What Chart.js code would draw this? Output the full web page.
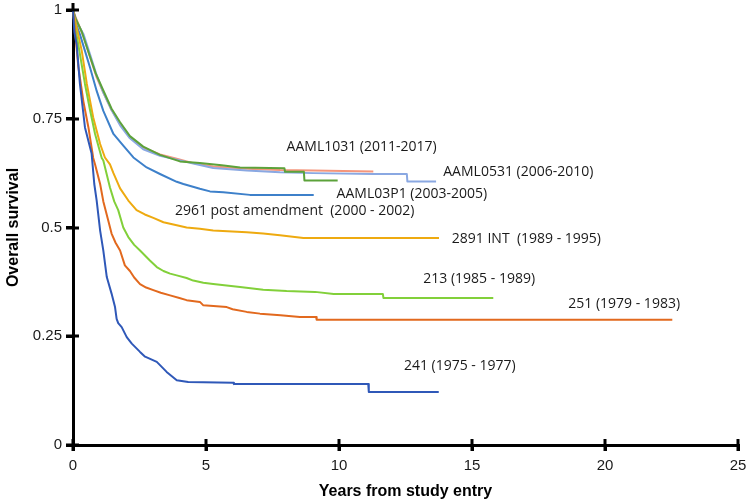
<!DOCTYPE html>
<html><head><meta charset="utf-8">
<script src="https://cdn.jsdelivr.net/npm/chart.js@4/dist/chart.umd.min.js"></script>
<style>html,body{margin:0;padding:0;background:#fff}#wrap{width:750px;height:503px;position:relative}</style>
</head><body><div id="wrap"><canvas id="c" width="750" height="503"></canvas></div>
<script>
// ---- data (time in years, overall survival) ----
const xTicks = [0, 5, 10, 15, 20, 25];
const yTicks = [0, 0.25, 0.5, 0.75, 1];
const yTickLabels = ['0', '0.25', '0.5', '0.75', '1'];

const s241 = [[0,1],[0.05,0.95],[0.14,0.92],[0.26,0.83],[0.45,0.73],[0.7,0.67],[0.8,0.6],[0.89,0.562],[1.02,0.493],[1.14,0.447],[1.27,0.386],[1.45,0.348],[1.58,0.317],[1.64,0.29],[1.7,0.28],[1.83,0.271],[2.02,0.248],[2.21,0.233],[2.52,0.214],[2.71,0.203],[3.15,0.191],[3.52,0.168],[3.9,0.149],[4.33,0.145],[6.03,0.143],[6.05,0.14],[11.1,0.14],[11.12,0.122],[13.75,0.122]];
const s251 = [[0,1],[0.08,0.95],[0.2,0.87],[0.39,0.79],[0.58,0.73],[0.76,0.66],[0.83,0.645],[1.02,0.6],[1.14,0.56],[1.33,0.515],[1.45,0.486],[1.6,0.465],[1.77,0.447],[1.95,0.413],[2.14,0.4],[2.3,0.385],[2.52,0.37],[2.75,0.362],[3.02,0.356],[3.3,0.35],[3.65,0.344],[4.0,0.338],[4.27,0.333],[4.77,0.329],[4.9,0.321],[5.78,0.317],[6.0,0.312],[6.53,0.306],[7.03,0.302],[7.8,0.298],[8.53,0.294],[9.14,0.294],[9.16,0.288],[22.53,0.288]];
const s213 = [[0,1],[0.05,0.97],[0.2,0.92],[0.45,0.83],[0.64,0.77],[0.83,0.715],[1.08,0.66],[1.14,0.654],[1.39,0.592],[1.55,0.56],[1.7,0.54],[1.89,0.5],[2.08,0.478],[2.3,0.46],[2.52,0.447],[2.89,0.424],[3.15,0.409],[3.4,0.4],[3.65,0.394],[3.9,0.39],[4.27,0.384],[4.52,0.378],[4.9,0.373],[5.27,0.37],[6.28,0.363],[7.15,0.357],[8.03,0.354],[9.1,0.352],[9.8,0.347],[11.65,0.347],[11.67,0.338],[15.8,0.338]];
const s2891 = [[0,1],[0.1,0.97],[0.33,0.906],[0.52,0.83],[0.76,0.753],[1.02,0.692],[1.2,0.661],[1.39,0.645],[1.52,0.625],[1.77,0.59],[2.08,0.562],[2.39,0.54],[2.7,0.53],[3.02,0.522],[3.4,0.512],[3.9,0.505],[4.27,0.5],[4.77,0.497],[5.27,0.493],[6.53,0.489],[7.15,0.486],[7.78,0.482],[8.66,0.476],[13.76,0.476]];
const s2961 = [[0,1],[0.1,0.97],[0.26,0.944],[0.45,0.906],[0.64,0.868],[0.89,0.814],[1.14,0.768],[1.52,0.715],[1.89,0.688],[2.27,0.661],[2.77,0.638],[3.27,0.623],[3.9,0.605],[4.15,0.6],[4.77,0.589],[5.15,0.583],[5.65,0.581],[6.65,0.575],[9.05,0.575]];
const sAAML03P1 = [[0,1],[0.1,0.98],[0.33,0.95],[0.6,0.9],[0.85,0.855],[1.14,0.815],[1.45,0.773],[1.77,0.742],[2.14,0.71],[2.64,0.686],[3.27,0.667],[4.02,0.652],[4.77,0.648],[5.59,0.643],[6.28,0.638],[7.95,0.636],[7.97,0.628],[8.68,0.628],[8.7,0.608],[9.95,0.608]];
const sAAML0531 = [[0,1],[0.12,0.975],[0.39,0.945],[0.64,0.898],[0.89,0.85],[1.14,0.81],[1.45,0.77],[1.77,0.735],[2.14,0.705],[2.64,0.68],[3.27,0.665],[3.9,0.656],[4.52,0.647],[5.27,0.637],[6.53,0.631],[7.78,0.627],[9.03,0.625],[11.29,0.623],[12.55,0.623],[12.57,0.606],[13.65,0.606]];
const sAAML1031 = [[0,1],[0.14,0.977],[0.39,0.94],[0.64,0.892],[0.89,0.845],[1.14,0.81],[1.45,0.77],[1.77,0.738],[2.14,0.707],[2.64,0.684],[3.27,0.668],[3.9,0.658],[4.52,0.648],[5.27,0.64],[6.53,0.635],[7.78,0.632],[9.03,0.631],[11.29,0.629]];

const seriesNames = ['241 (1975 - 1977)','251 (1979 - 1983)','213 (1985 - 1989)','2891 INT  (1989 - 1995)','2961 post amendment  (2000 - 2002)','AAML03P1 (2003-2005)','AAML0531 (2006-2010)','AAML1031 (2011-2017)'];
const seriesData = [s241, s251, s213, s2891, s2961, sAAML03P1, sAAML0531, sAAML1031];
const seriesColors = ['#2F58B8','#E2691E','#82D03A','#EEAA10','#3D80CA','#5CA23A','#8AA8E2','#F5967C'];
// label anchors [x (years), y (survival)] for each series' text
const labelX = [12.44, 18.62, 13.17, 14.24, 3.83, 9.91, 13.92, 8.03];
const labelY = [0.181, 0.325, 0.382, 0.474, 0.537, 0.577, 0.627, 0.684];

const datasets = seriesData.map((d, i) => ({
  label: seriesNames[i],
  data: d.map(p => ({x: p[0], y: p[1]})),
  borderColor: seriesColors[i],
  backgroundColor: seriesColors[i],
  borderWidth: 2,
  borderJoinStyle: 'round',
  borderCapStyle: 'butt',
  pointRadius: 0,
  tension: 0,
  fill: false,
  clip: 4
}));

const tickPlugin = {
  id: 'crossTicks',
  afterDraw(chart) {
    const ctx = chart.ctx, xs = chart.scales.x, ys = chart.scales.y;
    const a = chart.chartArea;
    ctx.save();
    ctx.fillStyle = '#000000';
    // small extension of the y axis line above the top tick
    ctx.fillRect(a.left - 1.5, a.top - 7, 3, 8);
    for (const v of yTicks) {
      const p = Math.round(ys.getPixelForValue(v));
      ctx.fillRect(a.left - 7, p - 1.5, 13, 3);
    }
    for (const v of xTicks) {
      const p = Math.round(xs.getPixelForValue(v));
      ctx.fillRect(p - 1.5, a.bottom - 6, 3, 12);
    }
    // curve labels
    ctx.fillStyle = '#1a1a1a';
    ctx.font = '14px "Open Sans"';
    ctx.textAlign = 'left';
    ctx.textBaseline = 'middle';
    seriesNames.forEach((n, i) => {
      ctx.fillText(n, xs.getPixelForValue(labelX[i]), ys.getPixelForValue(labelY[i]));
    });
    ctx.restore();
  }
};

new Chart(document.getElementById('c'), {
  type: 'line',
  data: { datasets },
  options: {
    responsive: false,
    animation: false,
    devicePixelRatio: 1,
    layout: { padding: { top: 10, right: 12, left: 0, bottom: 0 } },
    plugins: { legend: { display: false }, tooltip: { enabled: false } },
    scales: {
      x: {
        type: 'linear', min: 0, max: 25,
        afterBuildTicks: s => { s.ticks = xTicks.map(v => ({ value: v })); },
        afterFit: s => { s.height = 58; s.paddingLeft = 0; s.paddingRight = 0; },
        grid: { display: true, drawOnChartArea: false, drawTicks: true, tickLength: 6, color: '#000', lineWidth: 3 },
        border: { display: true, color: '#000', width: 3 },
        ticks: { padding: 6, color: '#1a1a1a', font: { family: '"Liberation Sans", Arial', size: 15 }, maxRotation: 0 },
        title: { display: true, text: 'Years from study entry', color: '#000', font: { family: '"Liberation Sans", Arial', size: 16, weight: 'bold' }, padding: { top: 0, bottom: 2 } }
      },
      y: {
        type: 'linear', min: 0, max: 1,
        afterBuildTicks: s => { s.ticks = yTicks.map(v => ({ value: v })); },
        afterFit: s => { s.width = 73; s.paddingTop = 0; s.paddingBottom = 0; },
        grid: { display: true, drawOnChartArea: false, drawTicks: true, tickLength: 7, color: '#000', lineWidth: 3 },
        border: { display: true, color: '#000', width: 3 },
        ticks: { padding: 4, color: '#1a1a1a', font: { family: '"Liberation Sans", Arial', size: 15 },
          callback: (v) => { const i = yTicks.indexOf(v); return i >= 0 ? yTickLabels[i] : ''; } },
        title: { display: true, text: 'Overall survival', color: '#000', font: { family: '"Liberation Sans", Arial', size: 16, weight: 'bold' }, padding: { top: 4, bottom: 4 } }
      }
    }
  },
  plugins: [tickPlugin]
});
</script></body></html>
